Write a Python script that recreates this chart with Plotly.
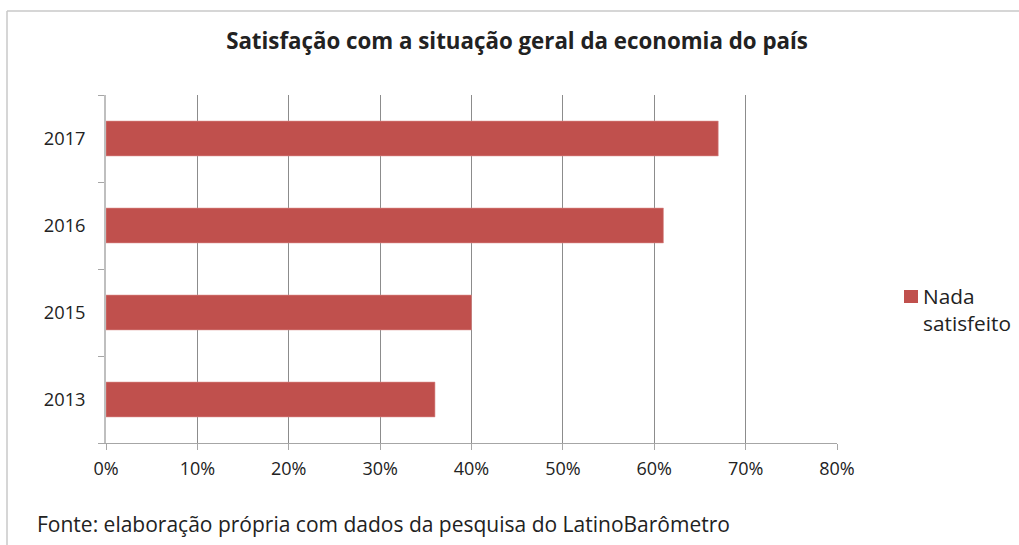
import plotly.graph_objects as go

# Survey data: share of respondents "Nada satisfeito" with the economy
years = ["2013", "2015", "2016", "2017"]
nada_satisfeito = [0.36, 0.40, 0.61, 0.67]
series_name = "Nada satisfeito"
legend_label = "Nada<br>satisfeito"
title_text = "Satisfação com a situação geral da economia do país"
source_text = "Fonte: elaboração própria com dados da pesquisa do LatinoBarômetro"

W, H = 1019, 545
ML, MR, MT, MB = 106, 182, 95, 102
PW, PH = W - ML - MR, H - MT - MB

BAR = "#C0504D"
TXT = "#222222"
FONT = "Open Sans"


def px_x(px):
    return (px - ML) / PW


def px_y(py):
    return (H - MB - py) / PH


fig = go.Figure()
fig.add_trace(go.Bar(
    y=years,
    x=nada_satisfeito,
    orientation="h",
    name=series_name,
    width=0.4,
    marker=dict(color=BAR, line=dict(color="#D98A88", width=0.6)),
    showlegend=False,
))

fig.update_layout(
    width=W, height=H,
    margin=dict(l=ML, r=MR, t=MT, b=MB, pad=0),
    paper_bgcolor="white",
    plot_bgcolor="white",
    font=dict(family=FONT, size=18, color=TXT),
    title=dict(
        text="<b>" + title_text + "</b>",
        x=517 / W, xanchor="center",
        y=1 - 41 / H, yanchor="middle",
        font=dict(family=FONT, size=22.3, color=TXT),
    ),
    bargap=0.6,
)

fig.update_xaxes(
    range=[0, 0.8],
    dtick=0.1,
    tickformat=".0%",
    showgrid=True,
    gridcolor="#8C8C8C",
    gridwidth=1,
    zeroline=False,
    showline=True,
    linecolor="#A6A6A6",
    linewidth=1,
    ticks="outside",
    ticklen=6,
    tickcolor="#A6A6A6",
    ticklabelstandoff=3,
    tickfont=dict(family=FONT, size=18, color=TXT),
)

fig.update_yaxes(
    type="category",
    categoryorder="array",
    categoryarray=years,
    showgrid=False,
    zeroline=False,
    showline=True,
    linecolor="#BFBFBF",
    linewidth=1.5,
    ticks="outside",
    tickson="boundaries",
    ticklen=6,
    tickcolor="#A6A6A6",
    ticklabelstandoff=15,
    tickfont=dict(family=FONT, size=18.3, color=TXT),
)

# Legend swatch and label at the right of the plot
fig.add_shape(
    type="rect", xref="paper", yref="paper",
    x0=px_x(904), x1=px_x(918), y0=px_y(303), y1=px_y(290),
    fillcolor=BAR, line=dict(width=0),
)
fig.add_annotation(
    xref="paper", yref="paper",
    x=px_x(921), y=px_y(309.5),
    xanchor="left", yanchor="middle",
    text=legend_label, showarrow=False, align="left",
    font=dict(family=FONT, size=20.8, color=TXT),
)

# Source note
fig.add_annotation(
    xref="paper", yref="paper",
    x=px_x(35), y=px_y(524),
    xanchor="left", yanchor="middle",
    text=source_text, showarrow=False,
    font=dict(family=FONT, size=21, color=TXT),
)

# Outer frame (top and left edges)
frame = dict(color="#C8C8C8", width=1.5)
fig.add_shape(type="line", xref="paper", yref="paper",
              x0=px_x(7), x1=px_x(W), y0=px_y(11), y1=px_y(11), line=frame)
fig.add_shape(type="line", xref="paper", yref="paper",
              x0=px_x(7), x1=px_x(7), y0=px_y(11), y1=px_y(H), line=frame)

fig.write_html("out.html")
